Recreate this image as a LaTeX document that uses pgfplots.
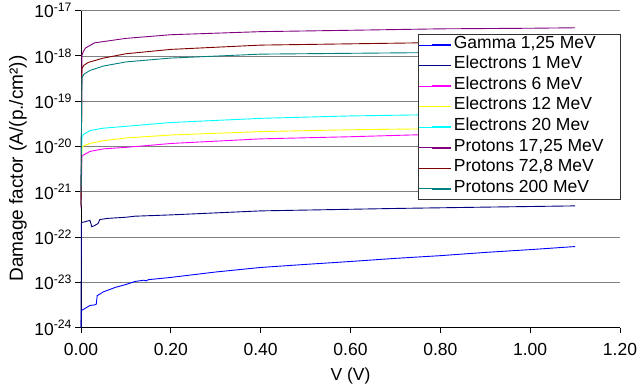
\documentclass[border=0pt]{standalone}
\usepackage{fontspec}
\setmainfont{Liberation Sans}
\usepackage{pgfplots}
\pgfplotsset{compat=1.18}
\definecolor{cGam}{RGB}{0,0,255}
\definecolor{cE1}{RGB}{0,0,128}
\definecolor{cE6}{RGB}{255,0,255}
\definecolor{cE12}{RGB}{255,255,0}
\definecolor{cE20}{RGB}{0,255,255}
\definecolor{cP17}{RGB}{128,0,128}
\definecolor{cP72}{RGB}{128,0,0}
\definecolor{cP200}{RGB}{0,128,128}
\newcommand\ff{\fontsize{17.5bp}{20bp}\selectfont}
\begin{document}
\begin{tikzpicture}
\path[use as bounding box] (0,0) rectangle (640bp,388bp);
\begin{axis}[
  at={(81bp,60.3bp)}, anchor=south west,
  scale only axis, width=539bp, height=317bp,
  xmin=0, xmax=1.2, ymode=log, ymin=1e-24, ymax=1e-17,
  axis x line*=bottom, axis y line*=left,
  axis line style={black, line width=1bp, -},
  xtick={0,0.2,0.4,0.6,0.8,1.0,1.2},
  xticklabels={0.00,0.20,0.40,0.60,0.80,1.00,1.20},
  ytick={1e-24,1e-23,1e-22,1e-21,1e-20,1e-19,1e-18,1e-17},
  yticklabels={10\textsuperscript{-24},10\textsuperscript{-23},10\textsuperscript{-22},10\textsuperscript{-21},10\textsuperscript{-20},10\textsuperscript{-19},10\textsuperscript{-18},10\textsuperscript{-17}},
  yminorticks=false,
  tick align=outside, major tick length=5.5bp,
  tick style={black, line width=1bp},
  ticklabel style={font=\ff},
  xticklabel style={yshift=-7bp},
  ymajorgrids, major grid style={gray, line width=0.9bp},
  clip=false,
  every axis plot/.append style={line width=0.9bp},
  legend style={at={(0.626,0.9256)}, anchor=north west, draw=black!80, line width=0.75bp,
    fill=white, inner xsep=0pt, inner ysep=0pt, row sep=0pt, column sep=2.4bp, font=\ff,
    nodes={inner sep=0pt, text height=13.5bp, text depth=7.07bp}},
  legend cell align=left,
  legend image code/.code={\path (-12.4bp,0bp) -- (19bp,0bp); \draw[#1, line width=1.6bp] (0bp,0bp) -- (19bp,0bp);},
]
% Gamma 1,25 MeV
\addplot[cGam] coordinates {(0,1e-24) (0.001,2.4e-24) (0.01,2.7e-24) (0.02,3.1e-24) (0.031,3.2e-24) (0.034,3.3e-24) (0.036,5.1e-24) (0.05,6.2e-24) (0.077,7.8e-24) (0.1,9.0e-24) (0.12,1.05e-23) (0.14,1.12e-23) (0.145,1.08e-23) (0.15,1.15e-23) (0.2,1.29e-23) (0.3,1.7e-23) (0.4,2.14e-23) (0.5,2.5e-23) (0.6,2.9e-23) (0.7,3.4e-23) (0.8,3.9e-23) (0.9,4.6e-23) (1.0,5.3e-23) (1.1,6.2e-23)};
% Electrons 1 MeV
\addplot[cE1] coordinates {(0,1e-24) (0.001,2.1e-22) (0.01,2.2e-22) (0.02,2.35e-22) (0.024,1.7e-22) (0.03,1.8e-22) (0.038,2.0e-22) (0.042,2.45e-22) (0.06,2.6e-22) (0.1,2.75e-22) (0.12,2.9e-22) (0.2,3.1e-22) (0.4,3.8e-22) (0.7,4.3e-22) (0.9,4.6e-22) (1.1,4.9e-22)};
% Electrons 6 MeV
\addplot[cE6] coordinates {(0,5e-22) (0.002,6.0e-21) (0.005,6.5e-21) (0.01,6.9e-21) (0.02,7.8e-21) (0.05,8.9e-21) (0.1,9.6e-21) (0.2,1.17e-20) (0.4,1.48e-20) (0.6,1.65e-20) (0.75,1.82e-20) (0.9,1.9e-20) (1.1,2.0e-20)};
% Electrons 12 MeV
\addplot[cE12] coordinates {(0,5e-22) (0.002,9.5e-21) (0.005,1.03e-20) (0.02,1.17e-20) (0.05,1.35e-20) (0.1,1.55e-20) (0.2,1.8e-20) (0.4,2.14e-20) (0.6,2.35e-20) (0.75,2.45e-20) (0.9,2.55e-20) (1.1,2.7e-20)};
% Electrons 20 Mev
\addplot[cE20] coordinates {(0,5e-22) (0.002,1.6e-20) (0.005,1.85e-20) (0.02,2.25e-20) (0.05,2.55e-20) (0.1,2.8e-20) (0.2,3.4e-20) (0.4,4.2e-20) (0.6,4.75e-20) (0.75,5.0e-20) (0.9,5.3e-20) (1.1,5.6e-20)};
% Protons 17,25 MeV
\addplot[cP17] coordinates {(0,4.3e-22) (0.002,1.02e-18) (0.005,1.25e-18) (0.01,1.5e-18) (0.03,1.95e-18) (0.1,2.45e-18) (0.2,2.95e-18) (0.4,3.45e-18) (0.6,3.7e-18) (0.8,3.98e-18) (1.0,4.1e-18) (1.1,4.2e-18)};
% Protons 72,8 MeV
\addplot[cP72] coordinates {(0,5e-22) (0.002,5.2e-19) (0.006,6.2e-19) (0.016,7.2e-19) (0.05,9.0e-19) (0.1,1.12e-18) (0.2,1.4e-18) (0.4,1.74e-18) (0.75,1.95e-18) (0.9,2.0e-18) (1.1,2.05e-18)};
% Protons 200 MeV
\addplot[cP200] coordinates {(0,1e-21) (0.002,3.3e-19) (0.007,4.0e-19) (0.02,4.8e-19) (0.05,6.0e-19) (0.1,7.4e-19) (0.2,9.0e-19) (0.4,1.1e-18) (0.82,1.2e-18) (1.1,1.32e-18)};
\legend{{\makebox[167bp][l]{Gamma 1,25 MeV}},{Electrons 1 MeV},{Electrons 6 MeV},{Electrons 12 MeV},{Electrons 20 Mev},{Protons 17,25 MeV},{Protons 72,8 MeV},{Protons 200 MeV}}
\end{axis}
\node[font=\ff] at (350.5bp,12bp) {V (V)};
\node[font=\fontsize{19bp}{22bp}\selectfont, rotate=90] at (18bp,219.5bp) {Damage factor (A/(p./cm²))};
\end{tikzpicture}
\end{document}
